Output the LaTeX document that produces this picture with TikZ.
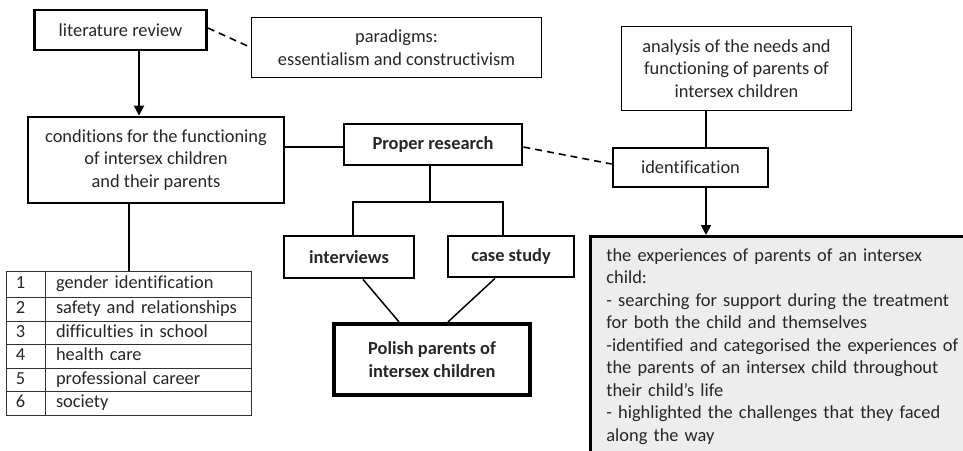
\documentclass[tikz,border=0pt]{standalone}
\usepackage{fontspec}
\setmainfont{Carlito}[Ligatures=NoCommon]
\usepackage{xcolor}
\definecolor{diaText}{HTML}{262626}
\definecolor{diaLine}{HTML}{000000}
\definecolor{tableLine}{HTML}{303030}
\definecolor{findGray}{HTML}{EDEDED}
\usetikzlibrary{arrows.meta,calc}
\newcommand{\diafont}{\fontsize{18.4}{22.5}\selectfont}
\tikzset{
    basic/.style={
        draw=diaLine,
        fill=white,
        rectangle,
        align=center,
        line width=2.8pt,
        inner sep=0pt,
        text=diaText,
        font=\diafont
    },
    thinbox/.style={
        basic,
        line width=1.3pt
    },
    strongbox/.style={
        basic,
        font=\diafont\bfseries
    },
    numcell/.style={
        draw=tableLine,
        line width=0.9pt,
        outer sep=0pt,
        anchor=north west,
        minimum width=39pt,
        text width=19pt,
        inner xsep=10pt,
        inner ysep=0pt,
        align=left,
        text height=13pt,
        text depth=4pt,
        text=diaText,
        font=\diafont
    },
    itemcell/.style={
        numcell,
        minimum width=206pt,
        text width=184pt,
        inner xsep=11pt
    },
    findings/.style={
        draw=diaLine,
        fill=findGray,
        line width=2.8pt,
        anchor=north west,
        text width=358pt,
        inner xsep=16pt,
        inner ysep=12pt,
        align=left,
        text=diaText,
        font=\diafont
    },
    arrow/.style={
        -{Triangle[length=10pt,width=10pt]},
        line width=2.2pt,
        color=diaLine
    },
    link/.style={
        line width=1.5pt,
        color=diaLine
    },
    dashlink/.style={
        line width=1.6pt,
        dash pattern=on 7pt off 5pt,
        color=diaLine
    }
}

\begin{document}
\begin{tikzpicture}[x=1pt,y=-1pt]
    \useasboundingbox (0,0) rectangle (963,450);
    \clip (0,0) rectangle (963,450);

    % Literature part
    \node[basic, minimum width=172pt, minimum height=40pt] (litrev) at (120.5,30) {literature review};
    \node[thinbox, minimum width=290pt, minimum height=60pt] (paradigms) at (396.5,47.5)
        {paradigms:\\essentialism and constructivism};
    \node[basic, minimum width=256pt, minimum height=86pt] (cond) at (156,160)
        {conditions for the functioning\\of intersex children\\and their parents};

    % Table of conditions
    \foreach \i/\rowtop/\rowh/\txt in {1/271/26/gender identification,
                                      2/297/24/safety and relationships,
                                      3/321/23/difficulties in school,
                                      4/344/24/health care,
                                      5/368/23/professional career,
                                      6/391/24/society} {
        \node[numcell, minimum height=\rowh pt] (num\i) at (6,\rowtop) {\i};
        \node[itemcell, minimum height=\rowh pt] (item\i) at (num\i.north east) {\txt};
    }

    % Research part
    \node[strongbox, minimum width=178pt, minimum height=41pt] (proper) at (433,144.5) {Proper research};
    \node[strongbox, minimum width=130pt, minimum height=42pt] (interviews) at (349,257) {interviews};
    \node[strongbox, minimum width=126pt, minimum height=41pt] (casestudy) at (511,256.5) {case study};
    \node[strongbox, line width=4.2pt, minimum width=196pt, minimum height=71pt] (polish) at (432,359.5)
        {Polish parents of\\intersex children};
    \coordinate (fork) at (430,202);

    % Identification part
    \node[thinbox, minimum width=230pt, minimum height=84pt] (analysis) at (736.5,68.5)
        {analysis of the needs and\\functioning of parents of\\intersex children};
    \node[basic, minimum width=155pt, minimum height=39pt] (ident) at (690.5,167.5) {identification};
    \node[findings] (results) at (589,235)
        {the experiences of parents of an intersex\\
         child:\\
         - searching for support during the treatment\\
         for both the child and themselves\\
         -identified and categorised the experiences of\\
         the parents of an intersex child throughout\\
         their child’s life\\
         - highlighted the challenges that they faced\\
         along the way};

    % Connectors
    \draw[arrow] ([xshift=18.5pt]litrev.south) -- ([xshift=18.5pt]litrev.south |- cond.north);
    \draw[dashlink] ([yshift=2pt]litrev.east) -- (paradigms.west);
    \draw[link, line width=2.8pt] ([xshift=-27pt]cond.south) -- ([xshift=-27pt]cond.south |- item1.north);
    \draw[link] ([yshift=-2.5pt]proper.west) -- ([yshift=-2.5pt]proper.west -| cond.east);
    \draw[dashlink] ([yshift=-2.5pt]proper.east) -- ([yshift=3.5pt]ident.west);
    \draw[link, line width=2.6pt] ([xshift=-3pt]proper.south) -- (fork);
    \draw[link] ([xshift=4pt]interviews.north) |- (fork) -| ([xshift=-8pt]casestudy.north);
    \draw[link] ([xshift=14pt]interviews.south) -- ([xshift=-33pt]polish.north);
    \draw[link] ([xshift=-16pt]casestudy.south) -- ([xshift=16pt]polish.north);
    \draw[link, line width=2pt] ([xshift=-30.5pt]analysis.south) -- ([xshift=-30.5pt]analysis.south |- ident.north);
    \draw[arrow, line width=1.8pt] ([xshift=15.5pt]ident.south) -- ([xshift=15.5pt]ident.south |- results.north);
\end{tikzpicture}
\end{document}
